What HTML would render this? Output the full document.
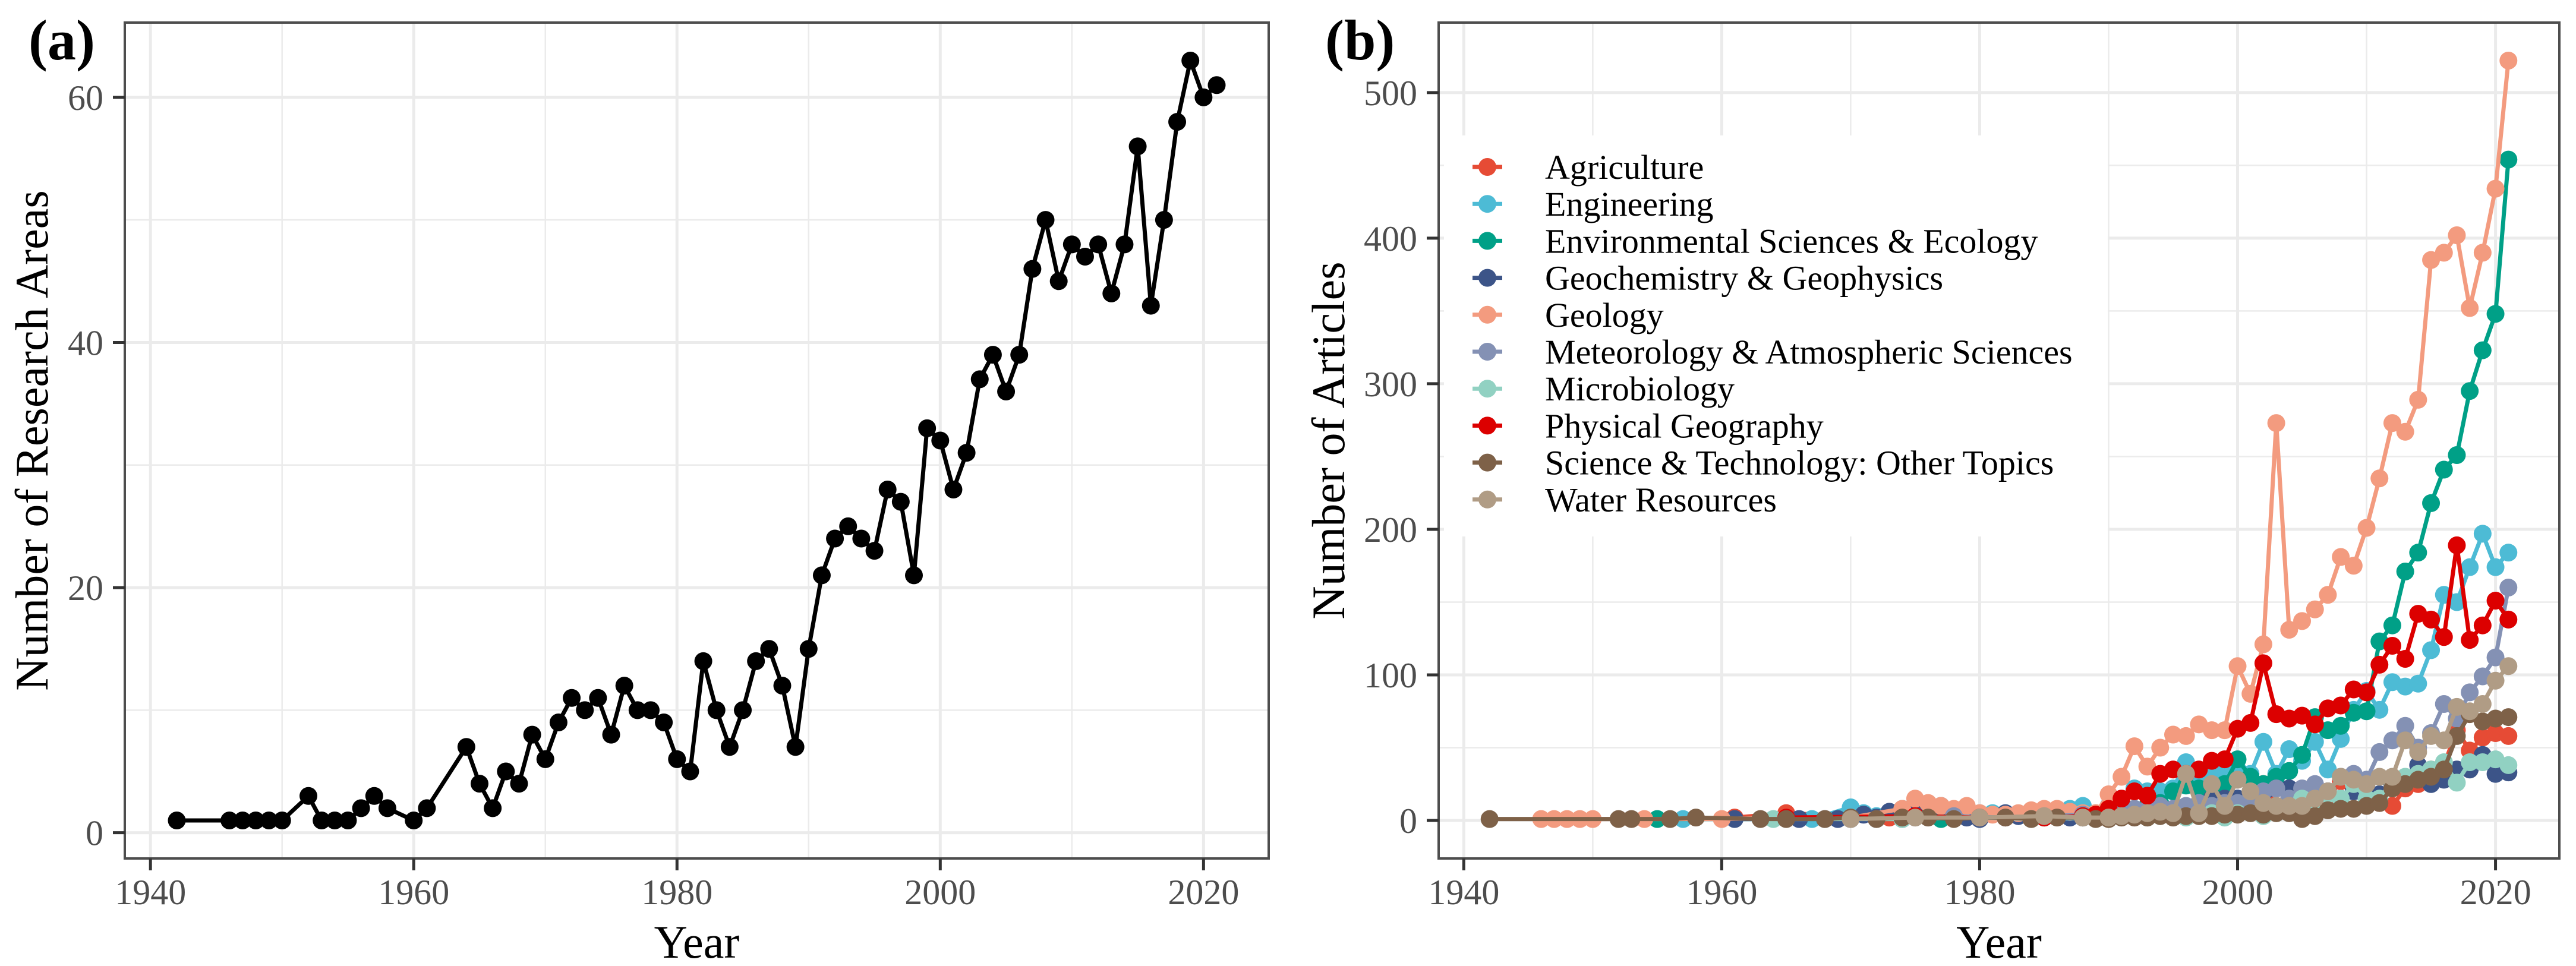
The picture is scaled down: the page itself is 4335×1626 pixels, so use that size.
<!DOCTYPE html>
<html><head><meta charset="utf-8"><style>
html,body{margin:0;padding:0;background:#fff;}
svg{display:block;font-family:"Liberation Serif",serif;}
</style></head><body>
<svg id="chart" width="4335" height="1626" viewBox="0 0 4335 1626" xmlns="http://www.w3.org/2000/svg"></svg>
<script>
// ---------- Panel (a) data ----------
const yearsA = [1942,1946,1947,1948,1949,1950,1952,1953,1954,1955,1956,1957,1958,1960,1961,1964,1965,1966,1967,1968,1969,1970,1971,1972,1973,1974,1975,1976,1977,1978,1979,1980,1981,1982,1983,1984,1985,1986,1987,1988,1989,1990,1991,1992,1993,1994,1995,1996,1997,1998,1999,2000,2001,2002,2003,2004,2005,2006,2007,2008,2009,2010,2011,2012,2013,2014,2015,2016,2017,2018,2019,2020,2021];
const areasA = [1,1,1,1,1,1,3,1,1,1,2,3,2,1,2,7,4,2,5,4,8,6,9,11,10,11,8,12,10,10,9,6,5,14,10,7,10,14,15,12,7,15,21,24,25,24,23,28,27,21,33,32,28,31,37,39,36,39,46,50,45,48,47,48,44,48,56,43,50,58,63,60,61];
const xTicks = [1940,1960,1980,2000,2020];
const yTicksA = [0,20,40,60];
const yTicksB = [0,100,200,300,400,500];

// ---------- Panel (b) data ----------
const seriesNames = ["Agriculture","Engineering","Environmental Sciences & Ecology","Geochemistry & Geophysics","Geology","Meteorology & Atmospheric Sciences","Microbiology","Physical Geography","Science & Technology: Other Topics","Water Resources"];
const seriesColors = ["#E64B35","#4DBBD5","#00A087","#3C5488","#F39B7F","#8491B4","#91D1C2","#DC0000","#7E6148","#B09C85"];
const recentYears = [1990,1991,1992,1993,1994,1995,1996,1997,1998,1999,2000,2001,2002,2003,2004,2005,2006,2007,2008,2009,2010,2011,2012,2013,2014,2015,2016,2017,2018,2019,2020,2021];
const agriEarlyYears = [1961,1965,1973,1976,1980,1982,1985,1988,1989];
const agriEarly = [2,5,2,3,2,2,2,3,2];
const agriRecent = [2,3,3,4,5,4,6,6,8,5,5,10,25,10,15,10,10,15,27,25,20,12,10,22,25,35,38,62,48,57,60,58];
const engEarlyYears = [1957,1967,1970,1971,1972,1974,1975,1976,1977,1978,1979,1980,1981,1982,1983,1984,1985,1986,1987,1988,1989];
const engEarly = [1,1,9,5,3,8,12,8,9,6,5,5,5,4,4,2,3,4,8,10,5];
const engRecent = [10,12,22,20,20,22,40,25,33,35,35,32,54,32,49,41,54,35,56,76,89,76,95,92,94,117,155,150,174,197,174,184];
const envEarlyYears = [1955,1977,1985,1988];
const envEarly = [1,1,2,2];
const envRecent = [3,5,8,10,12,20,24,22,22,25,42,30,25,30,34,45,71,62,65,74,75,123,134,171,184,218,241,251,295,323,348,454];
const geochemEarlyYears = [1961,1966,1968,1969,1970,1971,1972,1973,1974,1975,1976,1977,1978,1979,1980,1982,1983,1984,1985,1986,1987,1988,1989];
const geochemEarly = [1,1,1,1,1,4,2,6,1,5,6,10,4,2,1,5,3,2,3,3,2,2,2];
const geochemRecent = [3,3,4,5,4,5,5,8,15,15,15,10,12,22,22,18,22,20,15,20,15,18,25,28,38,25,28,35,35,45,32,33];
const geoEarlyYears = [1946,1947,1948,1949,1950,1954,1960,1965,1970,1974,1975,1976,1977,1978,1979,1980,1981,1982,1983,1984,1985,1986,1987,1988,1989];
const geoEarly = [1,1,1,1,1,1,1,2,2,8,15,12,10,8,10,5,4,4,5,7,8,8,6,5,5];
const geoRecent = [18,30,51,37,50,59,58,66,62,62,106,87,121,273,131,137,145,155,181,175,201,235,273,267,289,385,390,402,352,390,434,522];
const meteoEarlyYears = [1972,1975,1978,1982,1985,1988];
const meteoEarly = [1,2,3,2,3,4];
const meteoRecent = [5,6,8,8,10,8,10,12,10,12,12,15,20,22,15,22,25,20,30,32,28,47,55,65,50,60,80,70,88,99,112,160];
const microEarlyYears = [1964,1974,1980,1984];
const microEarly = [1,1,2,1];
const microRecent = [2,3,3,2,3,5,2,5,5,2,5,5,3,5,5,15,8,18,15,25,15,15,27,30,32,35,40,26,40,40,42,38];
const physEarlyYears = [1965,1975,1980,1985,1988,1989];
const physEarly = [2,3,2,2,3,4];
const physRecent = [8,15,20,17,32,35,32,35,41,42,63,67,108,73,70,72,66,77,79,90,88,107,120,111,142,138,126,189,124,134,151,138];
const sciEarlyYears = [1942,1952,1953,1956,1958,1963,1965,1968,1970,1972,1974,1976,1978,1980,1982,1984,1986,1988,1989];
const sciEarly = [1,1,1,1,2,1,1,1,2,1,2,2,1,2,2,1,2,2,1];
const sciRecent = [1,2,2,2,3,2,3,3,3,4,4,5,4,5,5,1,3,7,8,8,10,12,22,25,28,30,35,58,73,68,70,71];
const waterEarlyYears = [1970,1975,1980,1985,1988];
const waterEarly = [1,2,2,3,2];
const waterRecent = [2,3,4,5,6,5,32,5,25,10,28,20,12,10,10,10,15,20,30,28,25,30,30,55,47,58,55,78,75,80,96,106];

const earlyYears = [agriEarlyYears,engEarlyYears,envEarlyYears,geochemEarlyYears,geoEarlyYears,meteoEarlyYears,microEarlyYears,physEarlyYears,sciEarlyYears,waterEarlyYears];
const earlyVals = [agriEarly,engEarly,envEarly,geochemEarly,geoEarly,meteoEarly,microEarly,physEarly,sciEarly,waterEarly];
const recentVals = [agriRecent,engRecent,envRecent,geochemRecent,geoRecent,meteoRecent,microRecent,physRecent,sciRecent,waterRecent];

const NS = "http://www.w3.org/2000/svg";
const svg = document.getElementById("chart");
function mk(tag, attrs, parent){
  const e = document.createElementNS(NS, tag);
  for (const k in attrs) e.setAttribute(k, attrs[k]);
  (parent||svg).appendChild(e);
  return e;
}

function panel(opt){
  const g = mk("g", {});
  
  
  const L=opt.left,R=opt.right,T=38,B=1445;
  const xs = y => L + (y - opt.xmin) / (opt.xmax - opt.xmin) * (R - L);
  const ys = v => B - (v - opt.ymin) / (opt.ymax - opt.ymin) * (B - T);
  for (let i=0;i<xTicks.length-1;i++){
    const yr=(xTicks[i]+xTicks[i+1])/2;
    const l=mk("line",{x1:xs(yr),x2:xs(yr),y1:T,y2:B,stroke:"#EBEBEB","stroke-width":2.5},g);
    
    
  }
  const yt=opt.yticks;
  for (let i=0;i<yt.length;i++){
    const mv = yt[i] + (yt[1]-yt[0])/2;
    if (ys(mv) > T) {
      const l=mk("line",{x1:L,x2:R,y1:ys(mv),y2:ys(mv),stroke:"#EBEBEB","stroke-width":2.5},g);
      
      
    }
  }
  xTicks.forEach(t=>{
    const l=mk("line",{x1:xs(t),x2:xs(t),y1:T,y2:B,stroke:"#EBEBEB","stroke-width":5},g);
    
    
  });
  yt.forEach(t=>{
    const l=mk("line",{x1:L,x2:R,y1:ys(t),y2:ys(t),stroke:"#EBEBEB","stroke-width":5},g);
    
    
  });
  opt.draw(g, xs, ys);
  const bd=mk("rect",{x:L,y:T,width:R-L,height:B-T,fill:"none",stroke:"#4D4D4D","stroke-width":4},g);
  
  
  xTicks.forEach(t=>{
    const tk=mk("line",{x1:xs(t),x2:xs(t),y1:B,y2:B+20,stroke:"#333","stroke-width":5},g);
    
    
    const tx=mk("text",{x:xs(t),y:1522,"text-anchor":"middle","font-size":60,fill:"#4D4D4D"},g);
    tx.textContent=t;
    
    
  });
  yt.forEach(t=>{
    const tk=mk("line",{x1:L-20,x2:L,y1:ys(t),y2:ys(t),stroke:"#333","stroke-width":5},g);
    
    
    const tx=mk("text",{x:L-36,y:ys(t)+21,"text-anchor":"end","font-size":60,fill:"#4D4D4D"},g);
    tx.textContent=t;
    
    
  });
  const xt=mk("text",{x:(L+R)/2,y:1612,"text-anchor":"middle","font-size":78,fill:"#000"},g);
  xt.textContent="Year";
  
  
  const ytl=mk("text",{x:0,y:0,"text-anchor":"middle","font-size":78,fill:"#000",transform:`translate(${opt.ytitleX},${(T+B)/2}) rotate(-90)`},g);
  ytl.textContent=opt.ytitle;
  
  
  const pl=mk("text",{x:opt.labelX,y:100,"font-size":96,"font-weight":"bold",fill:"#000"},g);
  pl.textContent=opt.label;
  
  
}

panel({name:"panel-a",left:210,right:2135,xmin:1938.05,xmax:2024.95,ymin:-2.1,ymax:66.1,yticks:yTicksA,
  ytitle:"Number of Research Areas",ytitleX:80,label:"(a)",labelX:48,
  draw:(g,xs,ys)=>{
    const pts=yearsA.map((y,i)=>xs(y)+","+ys(areasA[i])).join(" ");
    const pl=mk("polyline",{points:pts,fill:"none",stroke:"#000","stroke-width":7,"stroke-linejoin":"round"},g);
    
    
    yearsA.forEach((y,i)=>{
      const c=mk("circle",{cx:xs(y),cy:ys(areasA[i]),r:15,fill:"#000"},g);
      
      
    });
  }});

panel({name:"panel-b",left:2421,right:4307,xmin:1938.05,xmax:2024.95,ymin:-26.1,ymax:548.1,yticks:yTicksB,
  ytitle:"Number of Articles",ytitleX:2262,label:"(b)",labelX:2230,
  draw:(g,xs,ys)=>{
    for (let s=0;s<seriesNames.length;s++){
      const yrs=earlyYears[s].concat(recentYears);
      const vals=earlyVals[s].concat(recentVals[s]);
      const sg=mk("g",{},g);
      
      
      const pts=yrs.map((y,i)=>xs(y)+","+ys(vals[i])).join(" ");
      const pl=mk("polyline",{points:pts,fill:"none",stroke:seriesColors[s],"stroke-width":7,"stroke-linejoin":"round"},sg);
      
      
      yrs.forEach((y,i)=>{
        const c=mk("circle",{cx:xs(y),cy:ys(vals[i]),r:15,fill:seriesColors[s]},sg);
        
        
      });
    }
    const lg=mk("g",{},g);
    
    
    const bg=mk("rect",{x:2430,y:228,width:1117,height:675,fill:"#fff"},lg);
    
    
    seriesNames.forEach((n,i)=>{
      const cy=281+i*62.2;
      const e=mk("g",{},lg);
      
      
      mk("line",{x1:2478,x2:2528,y1:cy,y2:cy,stroke:seriesColors[i],"stroke-width":7},e);
      mk("circle",{cx:2503,cy:cy,r:15,fill:seriesColors[i]},e);
      const t=mk("text",{x:2600,y:cy+20,"font-size":58,fill:"#000"},e);
      t.textContent=n;
    });
  }});
</script>
</body></html>
